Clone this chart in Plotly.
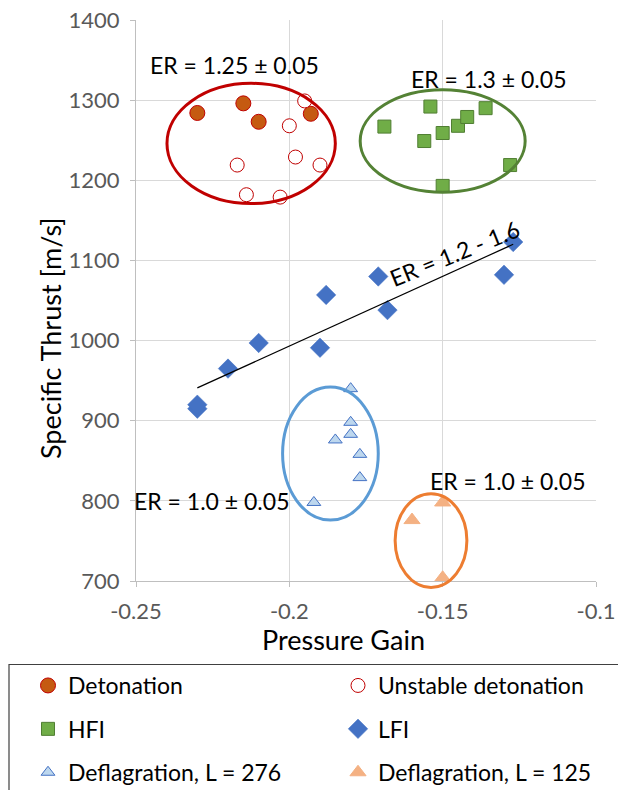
import numpy as np
import plotly.graph_objects as go

# ---- data ----
det_x = [-0.230, -0.215, -0.210, -0.193]
det_y = [1284, 1296, 1273, 1283]

unst_x = [-0.195, -0.200, -0.198, -0.190, -0.217, -0.214, -0.203]
unst_y = [1299, 1268, 1229, 1219, 1219, 1182, 1179]

hfi_x = [-0.169, -0.154, -0.156, -0.150, -0.145, -0.142, -0.136, -0.128, -0.150]
hfi_y = [1267, 1292, 1249, 1259, 1268, 1279, 1290, 1219, 1193]

lfi_x = [-0.230, -0.230, -0.220, -0.210, -0.190, -0.188, -0.171, -0.168, -0.130, -0.127]
lfi_y = [915, 920, 965, 997, 991, 1057, 1080, 1038, 1082, 1123]

d276_x = [-0.180, -0.180, -0.180, -0.185, -0.177, -0.177, -0.192]
d276_y = [940, 898, 883, 876, 858, 829, 798]

d125_x = [-0.150, -0.160, -0.150]
d125_y = [798, 776, 704]

x_ticks = [-0.25, -0.2, -0.15, -0.1]
x_ticklabels = ["-0.25", "-0.2", "-0.15", "-0.1"]
y_ticks = [700, 800, 900, 1000, 1100, 1200, 1300, 1400]
y_ticklabels = ["700", "800", "900", "1000", "1100", "1200", "1300", "1400"]

XR = [-0.25, -0.1]
YR = [700, 1400]

FONT = "Lato"

fig = go.Figure()

def add(x, y, name, symbol, size, fill, line, lw, legend):
    fig.add_trace(go.Scatter(
        x=x, y=y, mode="markers", name=name, legend=legend, legendgroup=name,
        cliponaxis=False,
        marker=dict(symbol=symbol, size=size, color=fill, line=dict(color=line, width=lw)),
    ))

add(det_x, det_y, "Detonation", "circle", 15, "#C55A11", "#C00000", 1, "legend")
add(unst_x, unst_y, "Unstable detonation", "circle", 14, "white", "#C00000", 1, "legend2")
add(hfi_x, hfi_y, "HFI", "square", 13, "#70AD47", "#507E32", 1, "legend")
add(lfi_x, lfi_y, "LFI", "diamond", 15, "#4472C4", "#4472C4", 0.5, "legend2")
add(d276_x, d276_y, "Deflagration, L = 276", "triangle-up", 12, "#BDD7EE", "#4472C4", 1, "legend")
add(d125_x, d125_y, "Deflagration, L = 125", "triangle-up", 14, "#F4B183", "#F4B183", 1, "legend2")

# linear trend of LFI
k, b = np.polyfit(lfi_x, lfi_y, 1)
tx = np.array([min(lfi_x), max(lfi_x)])
fig.add_trace(go.Scatter(x=tx, y=k * tx + b, mode="lines", showlegend=False,
                         line=dict(color="black", width=1.2)))

def px(v):
    return (v - XR[0]) / (XR[1] - XR[0])

def py(v):
    return (v - YR[0]) / (YR[1] - YR[0])

def ellipse(x0, x1, y0, y1, color):
    return dict(type="circle", xref="paper", yref="paper",
                x0=px(x0), x1=px(x1), y0=py(y0), y1=py(y1),
                line=dict(color=color, width=3), layer="above")

W, H = 618, 790
ML, MR, MT, MB = 136, 22, 20, 209
PW, PH = W - ML - MR, H - MT - MB

def ppx(p):
    return (p - ML) / PW

def ppy(p):
    return (H - MB - p) / PH

shapes = [
    ellipse(-0.2399, -0.1850, 1171, 1321, "#C00000"),
    ellipse(-0.1769, -0.1231, 1185, 1313, "#548235"),
    ellipse(-0.2022, -0.1710, 776, 942, "#5B9BD5"),
    ellipse(-0.1655, -0.1421, 692, 809, "#ED7D31"),
    dict(type="rect", xref="paper", yref="paper",
         x0=ppx(9), x1=ppx(640), y0=ppy(664.5), y1=ppy(820),
         line=dict(color="#404040", width=1.2), fillcolor="rgba(0,0,0,0)"),
]

afont = dict(family=FONT, size=23, color="black")
annotations = [
    dict(x=-0.218, y=1344, xref="x", yref="y", text="ER = 1.25 ± 0.05", showarrow=False, font=afont),
    dict(x=-0.1351, y=1327, xref="x", yref="y", text="ER = 1.3 ± 0.05", showarrow=False, font=afont),
    dict(x=-0.2254, y=800, xref="x", yref="y", text="ER = 1.0 ± 0.05", showarrow=False, font=afont),
    dict(x=-0.1289, y=825, xref="x", yref="y", text="ER = 1.0 ± 0.05", showarrow=False, font=afont),
    dict(x=-0.146, y=1109, xref="x", yref="y", text="ER = 1.2 - 1.6", showarrow=False, font=afont,
         textangle=-22),
    dict(x=ppx(343), y=ppy(639), xref="paper", yref="paper", text="Pressure Gain", showarrow=False,
         xanchor="center", yanchor="middle",
         font=dict(family=FONT, size=27, color="black")),
    dict(x=ppx(50), y=ppy(338), xref="paper", yref="paper", text="Specific Thrust [m/s]", showarrow=False,
         xanchor="center", yanchor="middle",
         textangle=-90, font=dict(family=FONT, size=27, color="black")),
]

axis_common = dict(showgrid=True, gridcolor="#D9D9D9", gridwidth=1, zeroline=False,
                   showline=True, linecolor="#BFBFBF", linewidth=1,
                   ticks="outside", ticklen=5, tickcolor="#BFBFBF",
                   tickfont=dict(family=FONT, size=22, color="#595959"))

fig.update_layout(
    width=W, height=H,
    margin=dict(l=ML, r=MR, t=MT, b=MB, autoexpand=False),
    paper_bgcolor="white", plot_bgcolor="white",
    xaxis=dict(range=XR, tickvals=x_ticks, ticktext=x_ticklabels, ticklabelstandoff=6, **axis_common),
    yaxis=dict(range=YR, tickvals=y_ticks, ticktext=y_ticklabels, ticklabelstandoff=6, **axis_common),
    shapes=shapes,
    annotations=annotations,
    legend=dict(x=ppx(28), y=ppy(664), xanchor="left", yanchor="top", orientation="v",
                tracegroupgap=10.5, bgcolor="rgba(0,0,0,0)",
                font=dict(family=FONT, size=23, color="black")),
    legend2=dict(x=ppx(338), y=ppy(664), xanchor="left", yanchor="top", orientation="v",
                 tracegroupgap=10.5, bgcolor="rgba(0,0,0,0)",
                 font=dict(family=FONT, size=23, color="black")),
)

fig.write_html("out.html")
